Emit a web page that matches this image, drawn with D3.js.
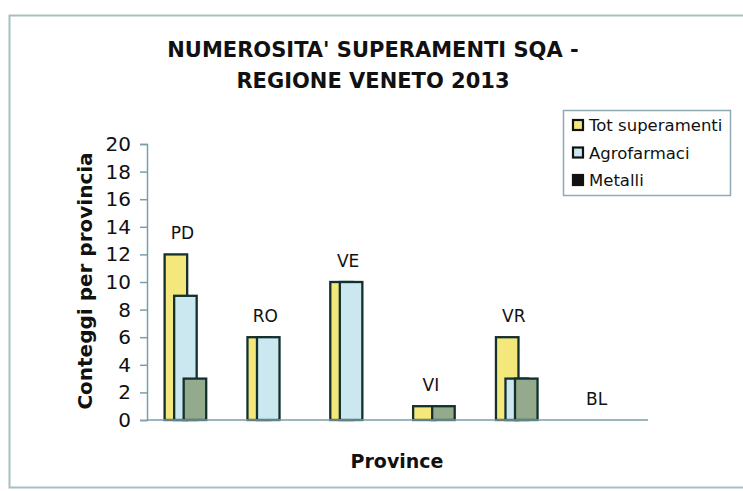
<!DOCTYPE html>
<html>
<head>
<meta charset="utf-8">
<script src="https://cdn.jsdelivr.net/npm/d3@7/dist/d3.min.js"></script>
<style>
  html, body { margin: 0; padding: 0; background: #ffffff; }
  svg { display: block; }
  text { font-family: "DejaVu Sans", Verdana, sans-serif; fill: #111; }
</style>
</head>
<body>
<svg id="chart" width="743" height="491"></svg>
<script>
// Province and counts of SQA exceedances, 2013
const province = ["PD", "RO", "VE", "VI", "VR", "BL"];
const totSuperamenti = [12, 6, 10, 1, 6, 0];
const agrofarmaci = [9, 6, 10, 0, 3, 0];
const metalli = [3, 0, 0, 1, 3, 0];
const seriesNames = ["Tot superamenti", "Agrofarmaci", "Metalli"];
const yTicks = [0, 2, 4, 6, 8, 10, 12, 14, 16, 18, 20];

const colors = ["#f4e77c", "#cbe7ef", "#93aa8c"];
const legendColors = ["#f4e77c", "#cbe7ef", "#111111"];
const seriesValues = [totSuperamenti, agrofarmaci, metalli];

const svg = d3.select("#chart");

// outer chart frame
svg.append("rect")
  .attr("x", 9.5).attr("y", 15.5)
  .attr("width", 745).attr("height", 472)
  .attr("fill", "#ffffff")
  .attr("stroke", "#a9bfc6").attr("stroke-width", 2);

const axisX0 = 147, axisX1 = 648;
const y = d3.scaleLinear().domain([0, 20]).range([420, 144]);
const x = d3.scaleBand().domain(province).range([144, 641]).padding(0);

const bw = x.bandwidth();
const barW = bw * 0.272;
const step = bw * 0.115;

// title
const title = svg.append("text")
  .attr("text-anchor", "middle")
  .style("font-weight", "bold").style("font-size", "21px");
title.append("tspan").attr("x", 373).attr("y", 57).text("NUMEROSITA' SUPERAMENTI SQA -");
title.append("tspan").attr("x", 373).attr("y", 88).text("REGIONE VENETO 2013");

// bars: series drawn in order so later ones overlap earlier ones
seriesValues.forEach((vals, si) => {
  svg.append("g")
    .selectAll("rect")
    .data(province.map((p, i) => ({ p, v: vals[i] })).filter(d => d.v > 0))
    .join("rect")
    .attr("x", d => x(d.p) + bw / 2 + (si - 1) * step - barW / 2)
    .attr("y", d => y(d.v))
    .attr("width", barW)
    .attr("height", d => y(0) - y(d.v))
    .attr("fill", colors[si])
    .attr("stroke", "#13302e")
    .attr("stroke-width", 2.3);
});

// y axis
const yAxis = svg.append("g")
  .attr("transform", `translate(${axisX0},0)`)
  .call(d3.axisLeft(y).tickValues(yTicks).tickSize(7).tickPadding(9).tickSizeOuter(7));
yAxis.select(".domain").attr("stroke", "#7d9ea9").attr("stroke-width", 1.5);
yAxis.selectAll(".tick line").attr("stroke", "#7d9ea9").attr("stroke-width", 1.5);
yAxis.selectAll(".tick text")
  .style("font-size", "20px").style("font-family", "'DejaVu Sans', Verdana, sans-serif")
  .attr("fill", "#111");

// x axis line
svg.append("line")
  .attr("x1", axisX0).attr("x2", axisX1)
  .attr("y1", y(0)).attr("y2", y(0))
  .attr("stroke", "#7d9ea9").attr("stroke-width", 1.5);

// category labels above each group
svg.append("g")
  .selectAll("text")
  .data(province.map((p, i) => ({ p, v: Math.max(totSuperamenti[i], agrofarmaci[i], metalli[i]) })))
  .join("text")
  .attr("x", d => x(d.p) + bw / 2 - 3)
  .attr("y", d => y(d.v) - 15)
  .attr("text-anchor", "middle")
  .style("font-size", "17px")
  .text(d => d.p);

// axis titles
svg.append("text")
  .attr("transform", "translate(92,281) rotate(-90)")
  .attr("text-anchor", "middle")
  .style("font-weight", "bold").style("font-size", "20px")
  .text("Conteggi per provincia");

svg.append("text")
  .attr("x", 397).attr("y", 468)
  .attr("text-anchor", "middle")
  .style("font-weight", "bold").style("font-size", "19px")
  .text("Province");

// legend
const legend = svg.append("g");
legend.append("rect")
  .attr("x", 563.5).attr("y", 110.5)
  .attr("width", 167).attr("height", 85)
  .attr("fill", "#ffffff")
  .attr("stroke", "#8fa9b3").attr("stroke-width", 1.5);
seriesNames.forEach((name, i) => {
  const cy = 125 + i * 27.5;
  legend.append("rect")
    .attr("x", 573).attr("y", cy - 5)
    .attr("width", 10).attr("height", 10)
    .attr("fill", legendColors[i])
    .attr("stroke", "#111").attr("stroke-width", 2.2);
  legend.append("text")
    .attr("x", 589).attr("y", cy + 6)
    .style("font-size", "16.5px")
    .text(name);
});
</script>
</body>
</html>
